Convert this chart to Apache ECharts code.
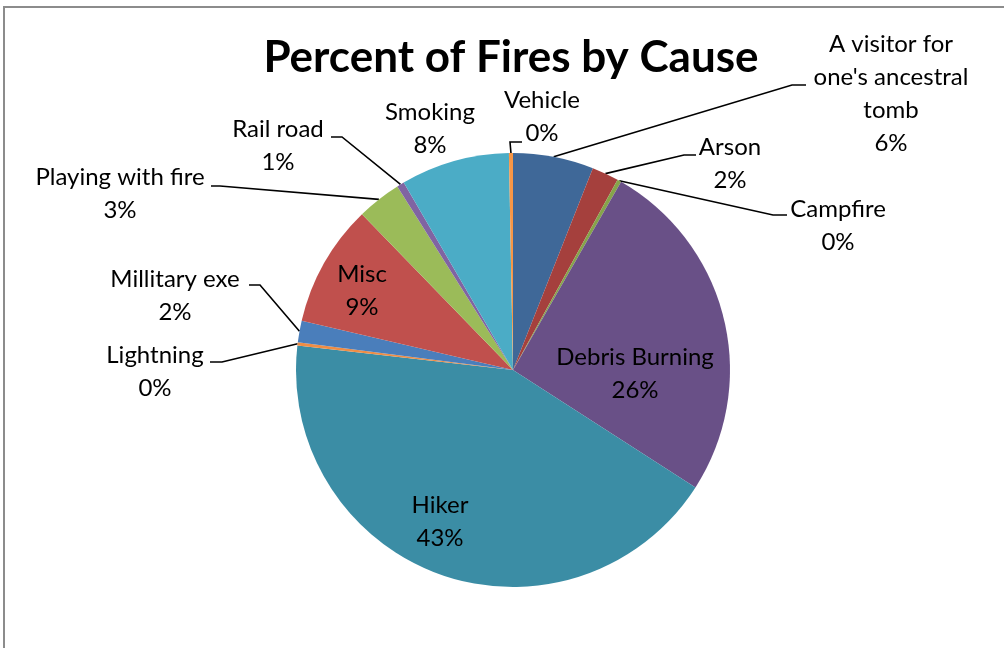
<!DOCTYPE html>
<html>
<head>
<meta charset="utf-8">
<script src="https://cdn.jsdelivr.net/npm/echarts@6/dist/echarts.min.js"></script>
<style>
  html, body { margin: 0; padding: 0; background: #fff; overflow: hidden; }
  #frame { position: absolute; left: 3px; top: 6px; width: 1100px; height: 800px; border-left: 2px solid #8c8c8c; border-top: 2px solid #8c8c8c; }
  #chart { position: absolute; left: 0; top: 0; width: 1004px; height: 648px; }
</style>
</head>
<body>
<div id="frame"></div>
<div id="chart"></div>
<script>
// ---- data ----
const categories = [
  "A visitor for\none's ancestral\ntomb", "Arson", "Campfire", "Debris Burning", "Hiker",
  "Lightning", "Millitary exe", "Misc", "Playing with fire", "Rail road", "Smoking", "Vehicle"
];
const values = [6.0, 2.0, 0.3, 25.8, 42.7, 0.25, 1.6, 9.1, 3.3, 0.55, 8.1, 0.3];
const colors = ['#3F6898', '#A5403D', '#86A44A', '#695087', '#3B8DA5', '#EF8D45',
                '#4A7EBB', '#C0504D', '#9BBB59', '#8064A2', '#4BACC6', '#F79646'];

// ---- label layout (text block centre, elbow, end of leader line) ----
const labelPlace = [
  { c: [891, 94],  elbow: [792, 85],   end: [806, 85] },
  { c: [730, 164], elbow: [684, 155],  end: [696, 155] },
  { c: [838, 226], elbow: [773, 215],  end: [787, 215] },
  { c: [635, 374] },
  { c: [440, 522] },
  { c: [155, 372], elbow: [222, 362],  end: [210, 362] },
  { c: [175, 296], elbow: [260, 285],  end: [249, 285] },
  { c: [362, 291] },
  { c: [120, 194], elbow: [220, 186],  end: [211, 186] },
  { c: [278, 146], elbow: [342, 137],  end: [331, 137] },
  { c: [430, 129] },
  { c: [542, 117], elbow: [510, 142],  end: [522, 142] }
];

const chart = echarts.init(document.getElementById('chart'), null, { renderer: 'canvas' });
const FONT = 'Lato, "Open Sans", sans-serif';

const seriesData = categories.map((name, i) => ({
  name: name,
  value: values[i],
  itemStyle: { color: colors[i] },
  labelLine: { show: !!labelPlace[i].elbow }
}));

chart.setOption({
  animation: false,
  backgroundColor: 'transparent',
  graphic: [{
    type: 'text',
    x: 511, y: 58,
    style: {
      text: 'Percent of Fires by Cause',
      font: 'bold 44px ' + FONT,
      fill: '#000',
      align: 'center',
      verticalAlign: 'middle'
    }
  }],
  series: [{
    type: 'pie',
    center: [513, 370],
    radius: 217,
    startAngle: 90,
    clockwise: true,
    avoidLabelOverlap: false,
    data: seriesData,
    itemStyle: { borderWidth: 0 },
    label: {
      show: true,
      position: 'outside',
      color: '#000',
      fontFamily: FONT,
      fontSize: 24,
      lineHeight: 33,
      align: 'center',
      formatter: p => p.name + '\n' + Math.round(p.percent) + '%'
    },
    labelLine: {
      show: true,
      length: 10,
      length2: 10,
      lineStyle: { color: '#000', width: 1.6 }
    },
    labelLayout: function (params) {
      const pl = labelPlace[params.dataIndex];
      const res = { x: pl.c[0], y: pl.c[1], align: 'center', verticalAlign: 'middle' };
      if (pl.elbow && params.labelLinePoints) {
        res.labelLinePoints = [params.labelLinePoints[0], pl.elbow, pl.end];
      }
      return res;
    }
  }]
});
</script>
</body>
</html>
